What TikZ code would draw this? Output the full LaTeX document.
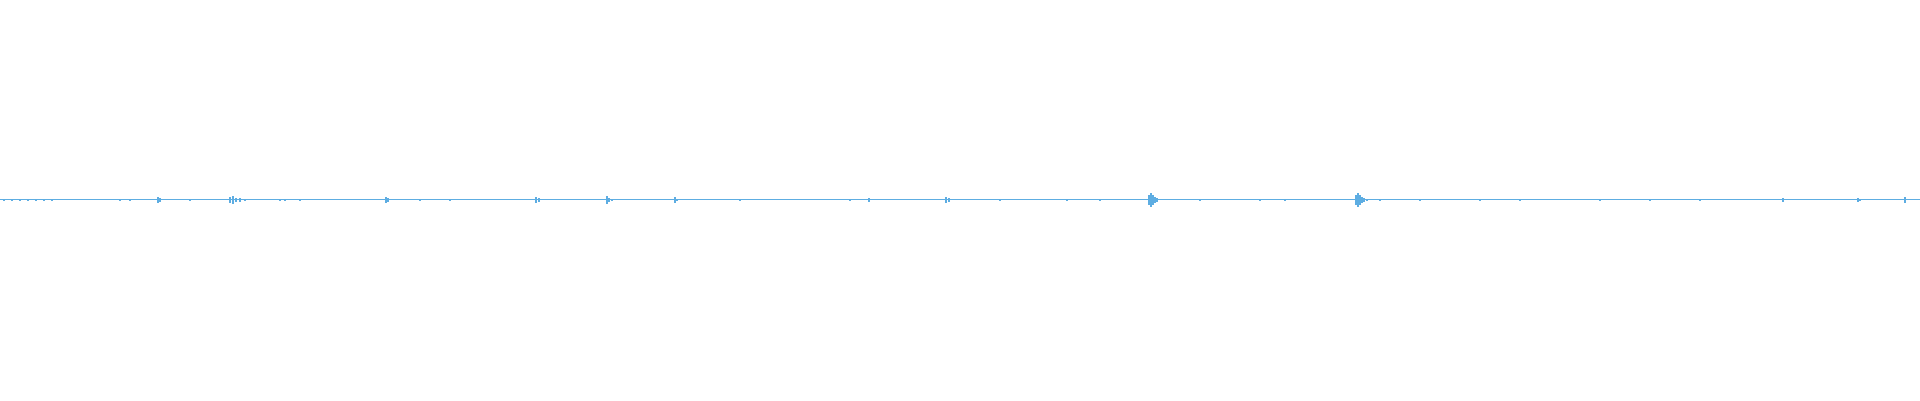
\documentclass[tikz,border=0pt]{standalone}
\usetikzlibrary{calc}
\definecolor{wave}{HTML}{5DADE2}

\begin{document}
\begin{tikzpicture}[x=1pt,y=1pt]
\useasboundingbox (0,0) rectangle (1920,400);
\coordinate (start) at (0,200.5);
\coordinate (stop) at (1920,200.5);
\draw[wave,line width=1.2pt] (start) -- (stop);
% bursts: position/half height
\foreach \x/\h in {4/1,12/1,20/1,28/1,36/1,44/1,52/1,120/1,130/1,158/3,160/2,190/1,230/3,233/4,236/2,240/2,245/1,
  280/1,285/1,300/1,386/3,388/2,420/1,450/1,536/3,539/2,607/4,609/2,612/1,675/3,677/1,740/1,
  850/1,869/2,946/3,949/2,1000/1,1067/1,1100/1,1149/5,1151/7,1153/5,1155/3,1157/2,1200/1,1260/1,1285/1,
  1356/5,1358/7,1360/5,1362/3,1364/2,1367/1,1380/1,1420/1,1480/1,1520/1,1600/1,1650/1,1700/1,1783/2,1858/2,1860/1,1905/3}
  \draw[wave,line width=1.2pt] (\x,200.5-\h) -- (\x,200.5+\h);
\end{tikzpicture}
\end{document}
